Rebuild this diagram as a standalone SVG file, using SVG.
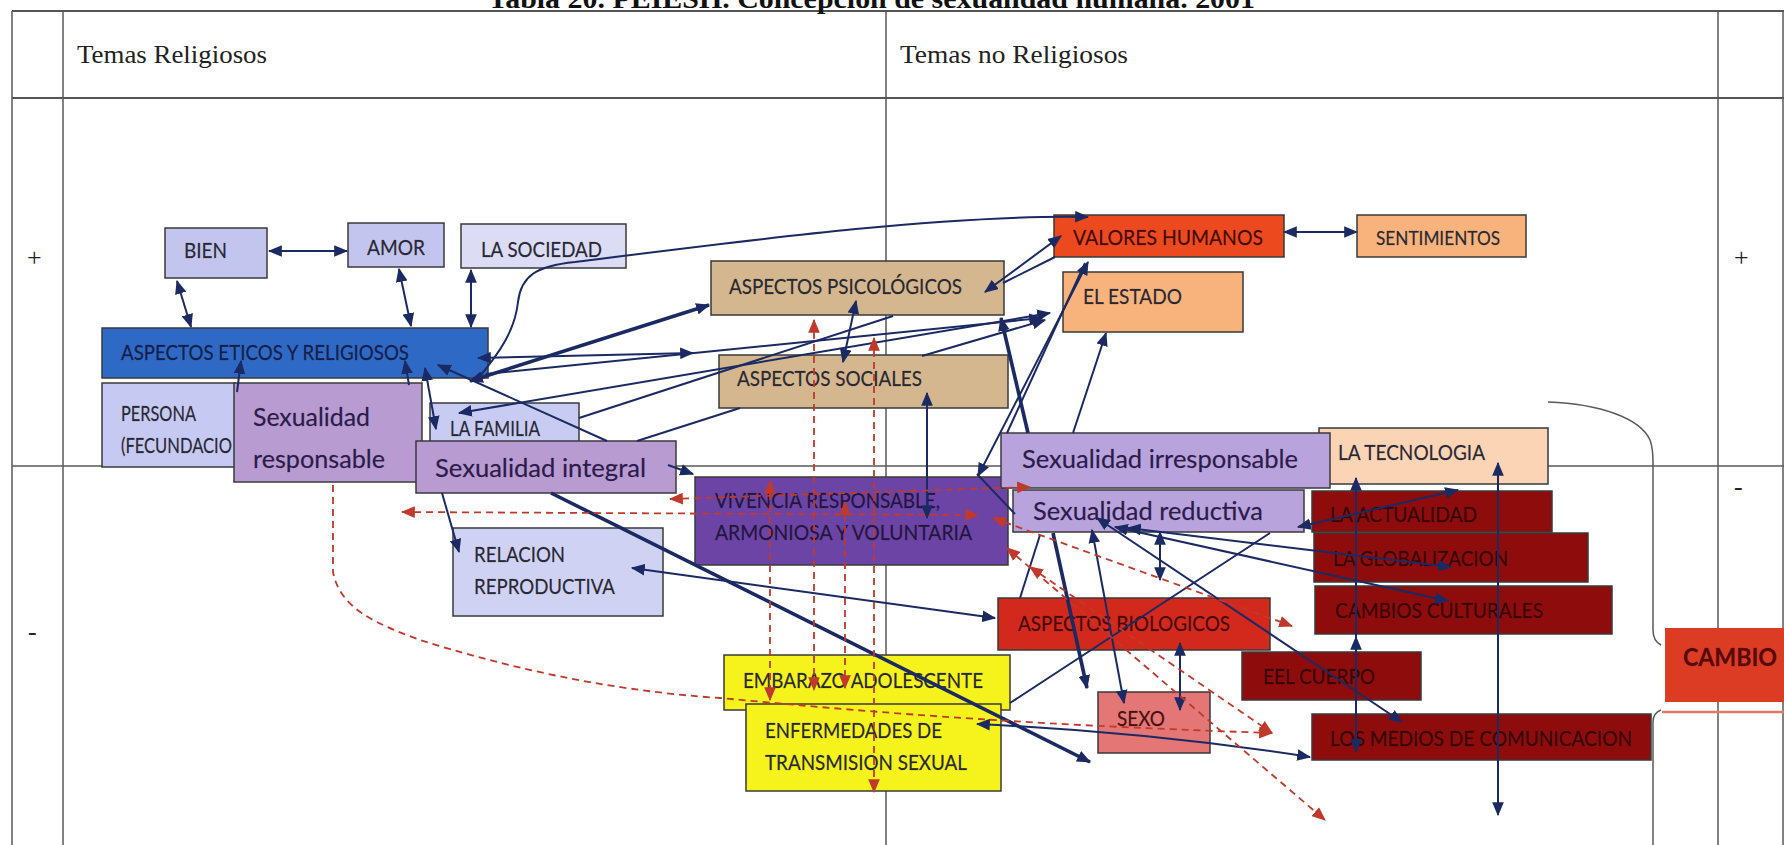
<svg xmlns="http://www.w3.org/2000/svg" width="1784" height="845" viewBox="0 0 1784 845">
<defs>
<style>
.grid{stroke:#5a5a5a;stroke-width:1.5;fill:none}
.gridb{stroke:#555;stroke-width:2.2;fill:none}
.hdr{font-family:"Liberation Serif",serif;font-size:26px;fill:#222}
.ttl{font-family:"Liberation Serif",serif;font-size:28px;font-weight:bold;fill:#111}
.n rect{stroke:#3a3a3a;stroke-width:1.5}
.t{font-family:Lato,"Liberation Sans",sans-serif;font-size:21px;fill:#2a2a35;stroke:rgba(20,20,30,0.45);stroke-width:0.4}
.s{font-family:Lato,"Liberation Sans",sans-serif;font-size:25px;fill:#2c1c4c;stroke:rgba(30,15,60,0.45);stroke-width:0.4}
.dk{fill:#3a0505}
.c{stroke:#1b2a63;stroke-width:2;fill:none}
.k{stroke-width:3.6}
.d{stroke:#c0392b;stroke-width:1.8;stroke-dasharray:7 5;fill:none}
.b2{marker-start:url(#an);marker-end:url(#an)}
.e{marker-end:url(#an)}
.rb{marker-start:url(#ar);marker-end:url(#ar)}
.re{marker-end:url(#ar)}
</style>
<marker id="an" viewBox="0 0 12 10" refX="11" refY="5" markerWidth="14" markerHeight="12" markerUnits="userSpaceOnUse" orient="auto-start-reverse"><path d="M0,0 L12,5 L0,10 z" fill="#1b2a63"/></marker>
<marker id="ar" viewBox="0 0 12 10" refX="11" refY="5" markerWidth="14" markerHeight="12" markerUnits="userSpaceOnUse" orient="auto-start-reverse"><path d="M0,0 L12,5 L0,10 z" fill="#c0392b"/></marker>
</defs>
<rect width="1784" height="845" fill="#ffffff"/>
<g id="table">
<path class="gridb" d="M12,11 H1784 M12,98 H1784"/>
<path class="grid" d="M12,11 V845 M63,11 V845 M886,11 V845 M1718,11 V845 M1783,11 V845 M12,466 H1784"/>
<text class="ttl" x="488" y="8" textLength="767" lengthAdjust="spacingAndGlyphs">Tabla 20. PEIESH. Concepción de sexualidad humana. 2001</text>
<text class="hdr" x="77" y="63" textLength="190" lengthAdjust="spacingAndGlyphs">Temas Religiosos</text>
<text class="hdr" x="900" y="63" textLength="228" lengthAdjust="spacingAndGlyphs">Temas no Religiosos</text>
<text class="hdr" x="27" y="266">+</text>
<text class="hdr" x="1734" y="266">+</text>
<text class="hdr" x="28" y="640">-</text>
<text class="hdr" x="1734" y="495">-</text>
</g>
<g id="brace">
<path class="grid" d="M1548,402 C1600,404 1640,418 1650,440 Q1653,448 1653,462 L1653,630 Q1653,641 1661,645"/>
<path class="grid" d="M1661,710 Q1653,713 1653,722 L1653,845"/>
<path d="M1662,712 H1784" stroke="#e07a68" stroke-width="2.5"/>
</g>
<g id="n-bien" class="n"><rect x="165" y="228" width="102" height="50" fill="#c3c5ef"/><text class="t" x="184" y="258" textLength="43" lengthAdjust="spacingAndGlyphs">BIEN</text></g>
<g id="n-amor" class="n"><rect x="348" y="223" width="96" height="44" fill="#c3c5ef"/><text class="t" x="367" y="255" textLength="58" lengthAdjust="spacingAndGlyphs">AMOR</text></g>
<g id="n-sociedad" class="n"><rect x="461" y="224" width="165" height="44" fill="#dcdcf5"/><text class="t" x="481" y="257" textLength="121" lengthAdjust="spacingAndGlyphs">LA SOCIEDAD</text></g>
<g id="n-eticos" class="n"><rect x="102" y="328" width="386" height="50" fill="#2f69c6"/><text class="t" x="121" y="360" textLength="288" lengthAdjust="spacingAndGlyphs" style="fill:#16204a">ASPECTOS ETICOS Y RELIGIOSOS</text></g>
<g id="n-persona" class="n"><rect x="102" y="383" width="133" height="84" fill="#c6c9f1"/><text class="t" x="121" y="421" textLength="75" lengthAdjust="spacingAndGlyphs">PERSONA</text><text class="t" x="121" y="453" textLength="111" lengthAdjust="spacingAndGlyphs">(FECUNDACIO</text></g>
<g id="n-sexresp" class="n"><rect x="234" y="383" width="188" height="99" fill="#b89bd0"/><text class="s" x="253" y="426" textLength="117" lengthAdjust="spacingAndGlyphs">Sexualidad</text><text class="s" x="253" y="468" textLength="132" lengthAdjust="spacingAndGlyphs">responsable</text></g>
<g id="n-familia" class="n"><rect x="430" y="403" width="149" height="45" fill="#c9ccf2"/><text class="t" x="450" y="436" textLength="90" lengthAdjust="spacingAndGlyphs">LA FAMILIA</text></g>
<g id="n-sexint" class="n"><rect x="416" y="441" width="260" height="52" fill="#b89bd0"/><text class="s" x="435" y="477" textLength="211" lengthAdjust="spacingAndGlyphs">Sexualidad integral</text></g>
<g id="n-relacion" class="n"><rect x="453" y="528" width="210" height="88" fill="#d0d2f4"/><text class="t" x="474" y="562" textLength="91" lengthAdjust="spacingAndGlyphs">RELACION</text><text class="t" x="474" y="594" textLength="141" lengthAdjust="spacingAndGlyphs">REPRODUCTIVA</text></g>
<g id="n-psico" class="n"><rect x="711" y="261" width="293" height="54" fill="#d4b78e"/><text class="t" x="729" y="294" textLength="233" lengthAdjust="spacingAndGlyphs">ASPECTOS PSICOLÓGICOS</text></g>
<g id="n-sociales" class="n"><rect x="719" y="355" width="289" height="53" fill="#d4b78e"/><text class="t" x="737" y="386" textLength="185" lengthAdjust="spacingAndGlyphs">ASPECTOS SOCIALES</text></g>
<g id="n-vivencia" class="n"><rect x="695" y="477" width="313" height="88" fill="#6c44a6"/><text class="t" x="715" y="508" textLength="225" lengthAdjust="spacingAndGlyphs" style="fill:#24163e">VIVENCIA RESPONSABLE,</text><text class="t" x="715" y="540" textLength="257" lengthAdjust="spacingAndGlyphs" style="fill:#24163e">ARMONIOSA Y VOLUNTARIA</text></g>
<g id="n-embarazo" class="n"><rect x="724" y="655" width="286" height="55" fill="#f5f21c"/><text class="t" x="743" y="688" textLength="240" lengthAdjust="spacingAndGlyphs">EMBARAZO ADOLESCENTE</text></g>
<g id="n-enfermedades" class="n"><rect x="746" y="704" width="255" height="87" fill="#f5f21c"/><text class="t" x="765" y="738" textLength="177" lengthAdjust="spacingAndGlyphs">ENFERMEDADES DE</text><text class="t" x="765" y="770" textLength="202" lengthAdjust="spacingAndGlyphs">TRANSMISION SEXUAL</text></g>
<g id="n-valores" class="n"><rect x="1054" y="215" width="230" height="42" fill="#ec4a1e"/><text class="t" x="1073" y="245" textLength="190" lengthAdjust="spacingAndGlyphs" style="fill:#4a0a00">VALORES HUMANOS</text></g>
<g id="n-sentimientos" class="n"><rect x="1357" y="215" width="169" height="42" fill="#f8b27c"/><text class="t" x="1376" y="245" textLength="124" lengthAdjust="spacingAndGlyphs" style="font-size:19px">SENTIMIENTOS</text></g>
<g id="n-estado" class="n"><rect x="1063" y="272" width="180" height="60" fill="#f8b27c"/><text class="t" x="1083" y="304" textLength="99" lengthAdjust="spacingAndGlyphs">EL ESTADO</text></g>
<g id="n-tecnologia" class="n"><rect x="1319" y="428" width="229" height="56" fill="#fbd3b5"/><text class="t" x="1338" y="460" textLength="147" lengthAdjust="spacingAndGlyphs">LA TECNOLOGIA</text></g>
<g id="n-sexirr" class="n"><rect x="1001" y="433" width="329" height="55" fill="#b9a3dc"/><text class="s" x="1022" y="468" textLength="276" lengthAdjust="spacingAndGlyphs">Sexualidad irresponsable</text></g>
<g id="n-sexred" class="n"><rect x="1013" y="490" width="291" height="42" fill="#b9a3dc"/><text class="s" x="1033" y="520" textLength="230" lengthAdjust="spacingAndGlyphs">Sexualidad reductiva</text></g>
<g id="n-actualidad" class="n"><rect x="1312" y="491" width="240" height="41" fill="#8e0c0c"/><text class="t dk" x="1330" y="522" textLength="147" lengthAdjust="spacingAndGlyphs">LA ACTUALIDAD</text></g>
<g id="n-globalizacion" class="n"><rect x="1314" y="533" width="274" height="49" fill="#8e0c0c"/><text class="t dk" x="1333" y="566" textLength="175" lengthAdjust="spacingAndGlyphs">LA GLOBALIZACION</text></g>
<g id="n-cambios" class="n"><rect x="1315" y="586" width="297" height="48" fill="#8e0c0c"/><text class="t dk" x="1335" y="618" textLength="208" lengthAdjust="spacingAndGlyphs">CAMBIOS CULTURALES</text></g>
<g id="n-biologicos" class="n"><rect x="998" y="598" width="272" height="52" fill="#d2291c"/><text class="t" x="1018" y="631" textLength="212" lengthAdjust="spacingAndGlyphs" style="fill:#4a0808">ASPECTOS BIOLOGICOS</text></g>
<g id="n-cuerpo" class="n"><rect x="1242" y="652" width="179" height="48" fill="#8e0c0c"/><text class="t dk" x="1263" y="684" textLength="112" lengthAdjust="spacingAndGlyphs">EEL CUERPO</text></g>
<g id="n-sexo" class="n"><rect x="1098" y="692" width="112" height="61" fill="#e47676"/><text class="t" x="1117" y="726" textLength="48" lengthAdjust="spacingAndGlyphs" style="fill:#4a1010">SEXO</text></g>
<g id="n-medios" class="n"><rect x="1312" y="714" width="339" height="46" fill="#8e0c0c"/><text class="t dk" x="1330" y="746" textLength="302" lengthAdjust="spacingAndGlyphs">LOS MEDIOS DE COMUNICACION</text></g>
<g id="n-cambio" class="n"><rect x="1665" y="628" width="125" height="74" fill="#dc3b24" style="stroke:none"/><text class="t" x="1683" y="666" textLength="94" lengthAdjust="spacingAndGlyphs" style="fill:#5a0a0a;font-weight:bold;font-size:24px">CAMBIO</text></g>
<g id="connectors">
<path class="c b2" d="M177,281 L191,327"/>
<path class="c b2" d="M269,251 L347,251"/>
<path class="c b2" d="M399,269 L411,326"/>
<path class="c b2" d="M471,270 L471,327"/>
<path class="c e" d="M480,376 C500,352 515,330 518,302 C521,276 536,266 575,262 C750,240 950,214 1088,217"/>
<path class="c b2" d="M478,358 L693,353"/>
<path class="c k b2" d="M470,381 L709,305"/>
<path class="c b2" d="M459,413 L1050,313"/>
<path class="c e" d="M486,374 L1042,318"/>
<path class="c" d="M579,418 L893,316"/>
<path class="c e" d="M922,356 L1045,320"/>
<path class="c" d="M637,441 L740,408"/>
<path class="c b2" d="M856,301 L843,362"/>
<path class="c" d="M438,365 L607,441" style="marker-start:url(#an)"/>
<path class="c k e" d="M551,493 L1090,762"/>
<path class="c e" d="M668,465 L693,474"/>
<path class="c e" d="M442,493 L459,552"/>
<path class="c b2" d="M632,568 L995,618"/>
<path class="c e" d="M237,392 L241,361"/>
<path class="c e" d="M409,385 L405,361"/>
<path class="c b2" d="M425,368 L436,429"/>
<path class="c b2" d="M1284,232 L1357,232"/>
<path class="c b2" d="M1061,236 L985,292"/>
<path class="c" d="M1055,257 L1003,283"/>
<path class="c b2" d="M1088,262 L978,476"/>
<path class="c" d="M1085,263 L1007,433"/>
<path class="c k" d="M1001,318 L1028,433" style="marker-start:url(#an)"/>
<path class="c e" d="M1073,433 L1106,333"/>
<path class="c b2" d="M927,393 L927,518"/>
<path class="c" d="M977,474 L1015,514"/>
<path class="c b2" d="M1097,518 L1402,722"/>
<path class="c b2" d="M1092,530 L1124,703"/>
<path class="c k e" d="M1053,533 L1087,688"/>
<path class="c" d="M1040,535 L1020,598"/>
<path class="c b2" d="M1160,532 L1160,580"/>
<path class="c b2" d="M1128,528 L1451,567"/>
<path class="c b2" d="M1115,527 L1448,601"/>
<path class="c b2" d="M1298,527 L1458,490"/>
<path class="c" d="M1270,533 L1010,703"/>
<path class="c b2" d="M977,724 Q1150,732 1310,757"/>
<path class="c b2" d="M1356,478 L1356,752"/>
<path class="c e" d="M1356,662 L1356,637"/>
<path class="c b2" d="M1498,463 L1498,815"/>
<path class="c b2" d="M1180,643 L1180,710"/>
<path class="d rb" d="M770,481 L770,700"/>
<path class="d rb" d="M814,320 L814,690"/>
<path class="d rb" d="M845,502 L845,688"/>
<path class="d rb" d="M874,338 L874,792"/>
<path class="d rb" d="M670,499 L1030,487"/>
<path class="d rb" d="M402,512 L978,515"/>
<path class="d rb" d="M993,518 L1292,626"/>
<path class="d rb" d="M1007,548 L1325,820"/>
<path class="d rb" d="M1030,567 L1272,733"/>
<path class="d re" d="M333,485 L333,572 C340,610 380,625 420,640 C500,665 600,690 720,698 C850,710 1000,724 1272,733"/>
</g>
</svg>
